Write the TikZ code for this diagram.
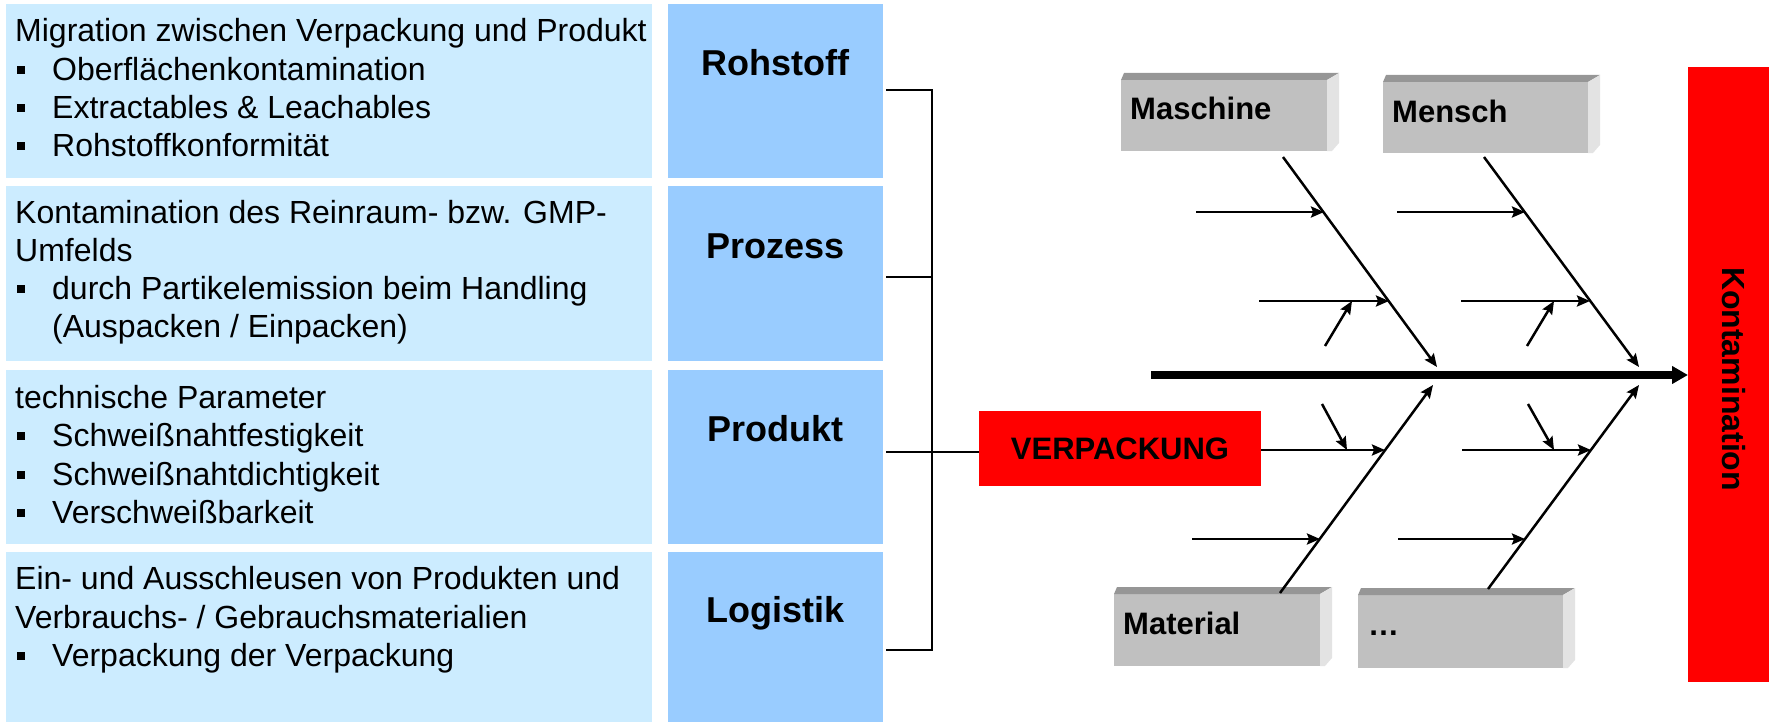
\documentclass[tikz,border=0pt]{standalone}
\usepackage{fontspec}
\setmainfont{Liberation Sans}
\usetikzlibrary{arrows.meta,calc}
\definecolor{lightbl}{HTML}{CCECFF}
\definecolor{midbl}{HTML}{99CCFF}
\definecolor{gfront}{HTML}{C0C0C0}
\definecolor{gtop}{HTML}{969696}
\definecolor{gside}{HTML}{E3E3E3}
\newcommand\bul{\llap{\rule[6.5bp]{8bp}{8bp}\hspace{27bp}}}
\newcommand\gbevel[1]{%
  \fill[gtop] (#1.north west) -- ++(3,-7) -- ($(#1.north east)+(12,-7)$) -- (#1.north east) -- cycle;
  \fill[gside] (#1.north east) -- ++(12,-7) -- ($(#1.south east)+(12,-8)$) -- ($(#1.south east)+(5,0)$) -- (#1.south east) -- cycle;}
\begin{document}
\begin{tikzpicture}[x=1bp,y=-1bp,
  panel/.style={anchor=north west,inner sep=0,outer sep=0,draw=none},
  lbox/.style={panel,fill=lightbl,minimum width=646bp},
  bbox/.style={panel,fill=midbl,minimum width=215bp},
  txt/.style={anchor=base west,inner sep=0,font=\fontsize{32bp}{38bp}\selectfont},
  lab/.style={anchor=base,inner sep=0,font=\fontsize{36bp}{40bp}\selectfont\bfseries},
  glab/.style={anchor=base west,inner sep=0,font=\fontsize{31bp}{36bp}\selectfont\bfseries},
  gbox/.style={panel,fill=gfront},
  bone/.style={line width=2.5bp,-{Stealth[length=13bp,width=11bp,inset=2bp]}},
  spine/.style={line width=8bp,-{Triangle[length=16bp,width=17bp]}},
  brk/.style={line width=1.8bp}]
\useasboundingbox (0,0) rectangle (1769,722);
% left panels
\node[lbox,minimum height=174bp] (t1) at (6,4) {};
\node[lbox,minimum height=175bp] (t2) at (6,186) {};
\node[lbox,minimum height=174bp] (t3) at (6,370) {};
\node[lbox,minimum height=170bp] (t4) at (6,552) {};
\node[bbox,minimum height=174bp] (b1) at (668,4) {};
\node[bbox,minimum height=175bp] (b2) at (668,186) {};
\node[bbox,minimum height=174bp] (b3) at (668,370) {};
\node[bbox,minimum height=170bp] (b4) at (668,552) {};
% texts
\node[txt] (l11) at (15,42) {Migration zwischen Verpackung und Produkt};
\node[txt] (l12) at (52,81) {\bul Oberflächenkontamination};
\node[txt] (l13) at (52,119) {\bul Extractables \& Leachables};
\node[txt] (l14) at (52,157) {\bul Rohstoffkonformität};
\node[txt] (l21) at (15,223) {Kontamination des Reinraum- bzw. GMP-};
\node[txt] (l22) at (15,261) {Umfelds};
\node[txt] (l23) at (52,299) {\bul durch Partikelemission beim Handling};
\node[txt] (l24) at (52,337) {(Auspacken / Einpacken)};
\node[txt] (l31) at (15,408) {technische Parameter};
\node[txt] (l32) at (52,446) {\bul Schweißnahtfestigkeit};
\node[txt] (l33) at (52,485) {\bul Schweißnahtdichtigkeit};
\node[txt] (l34) at (52,523) {\bul Verschweißbarkeit};
\node[txt] (l41) at (15,589) {Ein- und Ausschleusen von Produkten und};
\node[txt] (l42) at (15,628) {Verbrauchs- / Gebrauchsmaterialien};
\node[txt] (l43) at (52,666) {\bul Verpackung der Verpackung};
\node[lab] (k1) at (775.5,76) {Rohstoff};
\node[lab] (k2) at (775.5,258) {Prozess};
\node[lab] (k3) at (775.5,441) {Produkt};
\node[lab] (k4) at (775.5,622) {Logistik};
% VERPACKUNG
\node[fill=red,inner sep=0,outer sep=0,minimum width=282bp,minimum height=75bp,
  font=\fontsize{31bp}{36bp}\selectfont\bfseries] (verp) at (1120,448.5) {VERPACKUNG};
% bracket
\coordinate (c1) at (886,90);
\coordinate (c2) at (886,277);
\coordinate (c3) at (886,452);
\coordinate (c4) at (886,650);
\coordinate (v1) at (932,90);
\coordinate (v4) at (932,650);
\draw[brk] (c1) -- (v1) -- (v4) -- (c4);
\draw[brk] (c2) -- (c2 -| v1);
\draw[brk] (c3) -- (c3 -| verp.west);
% Kontamination
\node[panel,fill=red,minimum width=81bp,minimum height=615bp] (kont) at (1688,67) {};
\node[rotate=-90,anchor=base,inner sep=0,font=\fontsize{32bp}{36bp}\selectfont\bfseries] (kontlab) at (1722,379) {Kontamination};
% grey boxes
\node[gbox,minimum width=206bp,minimum height=71bp] (masch) at (1121,80) {};
\node[gbox,minimum width=205bp,minimum height=71bp] (mensch) at (1383,82) {};
\node[gbox,minimum width=206bp,minimum height=72bp] (mat) at (1114,594) {};
\node[gbox,minimum width=205bp,minimum height=73bp] (etc) at (1358,595) {};
\gbevel{masch}\gbevel{mensch}\gbevel{mat}\gbevel{etc}
\node[glab] (maschlab) at (1130,120) {Maschine};
\node[glab] (menschlab) at (1392,123) {Mensch};
\node[glab] (matlab) at (1123,634) {Material};
\node[glab] (etclab) at (1368,635) {…};
% spine
\coordinate (sp0) at (1151,375);
\draw[spine] (sp0) -- (sp0 -| kont.west);
% bones
\coordinate (m0) at (1283,157); \coordinate (m1) at (1437,367);
\coordinate (n0) at (1484,157); \coordinate (n1) at (1639,367);
\coordinate (a0) at (1280,593); \coordinate (a1) at (1433,385);
\coordinate (d0) at (1488,589); \coordinate (d1) at (1639,385);
\draw[bone] (m0) -- (m1);
\draw[bone] (n0) -- (n1);
\draw[bone] (a0) -- (a1);
\draw[bone] (d0) -- (d1);
% upper sub-arrows
\coordinate (h1) at (1196,212); \coordinate (h1e) at (1324,212);
\coordinate (h2) at (1397,212); \coordinate (h2e) at (1525,212);
\coordinate (h3) at (1259,301); \coordinate (h3e) at (1389,301);
\coordinate (h4) at (1461,301); \coordinate (h4e) at (1590,301);
\draw[bone] (h1) -- (h1e);
\draw[bone] (h2) -- (h2e);
\draw[bone] (h3) -- (h3e);
\draw[bone] (h4) -- (h4e);
\coordinate (s1) at (1325,346); \coordinate (s1e) at (1352,301);
\coordinate (s2) at (1527,346); \coordinate (s2e) at (1554,301);
\draw[bone] (s1) -- (s1e);
\draw[bone] (s2) -- (s2e);
% lower sub-arrows
\coordinate (g1e) at (1385,450);
\coordinate (g2) at (1462,450); \coordinate (g2e) at (1591,450);
\coordinate (g3) at (1192,539); \coordinate (g3e) at (1320,539);
\coordinate (g4) at (1398,539); \coordinate (g4e) at (1525,539);
\draw[bone] (verp.east |- g1e) -- (g1e);
\draw[bone] (g2) -- (g2e);
\draw[bone] (g3) -- (g3e);
\draw[bone] (g4) -- (g4e);
\coordinate (u1) at (1322,404); \coordinate (u1e) at (1347,450);
\coordinate (u2) at (1528,404); \coordinate (u2e) at (1554,450);
\draw[bone] (u1) -- (u1e);
\draw[bone] (u2) -- (u2e);
\end{tikzpicture}
\end{document}
